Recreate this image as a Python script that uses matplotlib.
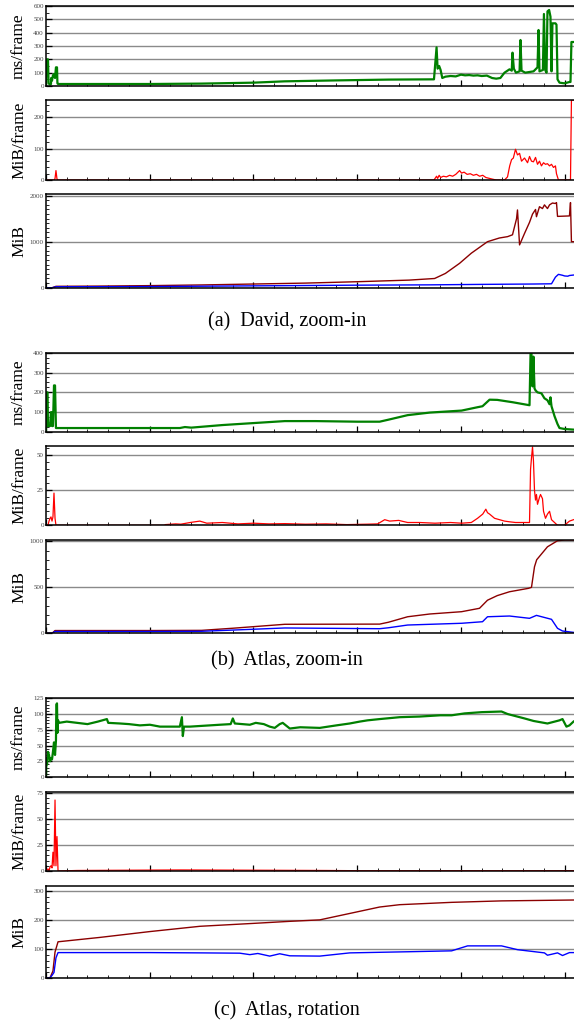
import matplotlib.pyplot as plt
from matplotlib.ticker import MultipleLocator

# gnuplot-like stacked panels: three runs, each with time, transfer and memory

# ---- (a) David, zoom-in ----
a_time_x = [0, 5, 19, 25, 39, 48, 50, 58, 67, 77, 87, 96, 106, 110, 116, 500, 1000, 1500, 2000, 2300, 2800,
            3300, 3740, 3765, 3775, 3790, 3804, 3820, 3850, 3900, 3950, 4000, 4040, 4080, 4120, 4160, 4200,
            4250, 4300, 4340, 4380, 4420, 4468, 4490, 4497, 4510, 4530, 4565, 4574, 4584, 4620, 4660, 4700,
            4738, 4748, 4757, 4790, 4800, 4812, 4825, 4834, 4850, 4863, 4873, 4882, 4911, 4921, 4931, 4950,
            4998, 5046, 5056, 5065, 5085]
a_time_y = [0, 200, 200, 20, 10, 15, 60, 40, 80, 90, 60, 140, 140, 20, 15, 15, 15, 18, 25, 35, 42,
            48, 50, 290, 130, 150, 120, 60, 70, 75, 72, 85, 80, 82, 78, 80, 75,
            78, 60, 55, 60, 100, 125, 115, 250, 130, 100, 110, 345, 115, 100, 105, 110,
            140, 420, 110, 120, 540, 120, 100, 560, 570, 520, 110, 470, 470, 460, 50, 25,
            20, 30, 30, 330, 330]

a_xfer_x = [0, 80, 87, 96, 106, 116, 3740, 3765, 3775, 3790, 3804, 3830, 3860, 3891, 3920, 3950, 3987,
            4006, 4030, 4060, 4090, 4120, 4150, 4180, 4210, 4240, 4276, 4300, 4340, 4420, 4449, 4470,
            4488, 4505, 4526, 4545, 4565, 4584, 4613, 4642, 4661, 4680, 4699, 4719, 4738, 4757, 4776,
            4796, 4815, 4834, 4854, 4873, 4892, 4911, 4921, 4940, 5056, 5065, 5085]
a_xfer_y = [0, 0, 5, 30, 3, 0, 0, 12, 5, 15, 8, 12, 10, 15, 12, 18, 30,
            22, 25, 18, 20, 15, 18, 12, 15, 8, 5, 3, 0, 0, 10, 45,
            65, 70, 98, 80, 85, 60, 70, 55, 75, 60, 58, 72, 50, 60, 45,
            55, 50, 52, 45, 50, 40, 45, 20, 0, 0, 255, 255]

a_mem_x = [0, 60, 96, 500, 1000, 1500, 2000, 2500, 3000, 3500, 3746, 3850, 3987, 4100, 4256, 4370, 4450,
           4497, 4536, 4545, 4565, 4613, 4661, 4690, 4719, 4728, 4757, 4786, 4805, 4834, 4854, 4882,
           4911, 4921, 4931, 5046, 5056, 5065, 5085]
a_mem_y = [0, 0, 30, 35, 45, 60, 80, 100, 130, 165, 200, 310, 530, 750, 1000, 1080, 1110,
           1150, 1500, 1690, 930, 1180, 1420, 1600, 1700, 1543, 1760, 1720, 1800, 1720, 1800, 1840,
           1830, 1850, 1550, 1560, 1850, 1000, 1000]

a_gpu_x = [0, 60, 96, 1000, 2000, 3000, 3700, 4200, 4700, 4873, 4911, 4940, 4979, 5000, 5030, 5046, 5085]
a_gpu_y = [0, 0, 20, 25, 40, 55, 62, 72, 80, 85, 230, 290, 270, 255, 250, 265, 275]

# ---- (b) Atlas, zoom-in ----
b_time_x = [0, 5, 15, 19, 39, 48, 55, 58, 67, 77, 87, 96, 500, 1000, 1290, 1339, 1400, 1700, 2000, 2302,
            2600, 3000, 3216, 3300, 3486, 3700, 4006, 4160, 4208, 4276, 4350, 4500, 4661, 4671, 4680,
            4690, 4699, 4709, 4719, 4738, 4776, 4805, 4834, 4854, 4863, 4873, 4902, 4931, 4950, 5000, 5085]
b_time_y = [0, 200, 200, 30, 30, 100, 100, 30, 30, 235, 235, 20, 20, 20, 20, 25, 22, 35, 45, 55,
            55, 52, 52, 62, 85, 98, 108, 125, 130, 163, 162, 150, 135, 395, 395,
            230, 380, 220, 210, 200, 195, 170, 160, 140, 175, 130, 80, 40, 20, 15, 12]

b_xfer_x = [0, 19, 29, 39, 48, 58, 67, 77, 87, 96, 1140, 1150, 1250, 1300, 1390, 1483, 1550, 1700, 1850,
            2000, 2150, 2302, 2500, 2700, 2900, 3100, 3197, 3265, 3313, 3400, 3486, 3602, 3750, 3900,
            4006, 4100, 4160, 4210, 4240, 4256, 4276, 4324, 4372, 4420, 4468, 4526, 4613, 4661, 4671,
            4680, 4690, 4699, 4709, 4719, 4728, 4738, 4757, 4767, 4786, 4796, 4815, 4834, 4854, 4873,
            4902, 4931, 4998, 5046, 5085]
b_xfer_y = [0, 0, 3, 5, 6, 3, 6, 23, 5, 0, 0, 0.5, 1, 0.8, 2, 3, 1.5, 2, 1,
            1.5, 1, 1.2, 0.8, 1, 0.5, 0.8, 1, 4, 3, 3.5, 2, 2, 1.5, 2,
            1.5, 2, 5, 8, 11.5, 9, 8, 5, 4, 3, 2.5, 2, 2, 2, 40,
            48, 56, 46, 25, 18, 22, 15, 20, 22, 19, 10, 5, 8, 10, 4,
            2, 0, 0, 3, 4]

b_mem_x = [0, 58, 87, 1000, 1500, 1800, 2302, 3216, 3300, 3486, 3700, 4006, 4179, 4256, 4350, 4468, 4650,
           4680, 4709, 4730, 4834, 4931, 5000, 5085]
b_mem_y = [0, 0, 30, 30, 32, 55, 98, 100, 120, 180, 210, 235, 272, 360, 410, 452, 489,
           500, 724, 800, 941, 1007, 1015, 1015]

b_gpu_x = [0, 58, 87, 1000, 1500, 1800, 2302, 3216, 3300, 3486, 4006, 4208, 4256, 4468, 4661, 4728, 4873,
           4931, 4979, 5085]
b_gpu_y = [0, 0, 20, 20, 22, 35, 58, 50, 60, 90, 109, 126, 180, 188, 163, 195, 152,
           54, 25, 10]

# ---- (c) Atlas, rotation ----
c_time_x = [0, 5, 10, 19, 29, 39, 48, 58, 67, 77, 87, 96, 100, 106, 110, 116, 125, 200, 300, 400, 500, 587,
            600, 713, 800, 905, 1002, 1098, 1200, 1290, 1310, 1319, 1330, 1387, 1483, 1580, 1676, 1780,
            1801, 1820, 1965, 2022, 2100, 2157, 2205, 2253, 2282, 2350, 2450, 2639, 2800, 2928, 3024,
            3100, 3216, 3409, 3600, 3800, 3910, 4035, 4200, 4391, 4450, 4613, 4700, 4834, 4950, 4979,
            5017, 5046, 5085]
c_time_y = [0, 30, 20, 40, 35, 25, 30, 28, 40, 55, 35, 58, 115, 117, 70, 90, 86, 88, 86, 84, 88, 92,
            86, 85, 84, 82, 83, 80, 80, 80, 95, 65, 80, 80, 81, 82, 83, 84,
            93, 85, 83, 86, 84, 80, 78, 84, 86, 77, 79, 78, 82, 85, 88,
            90, 92, 95, 96, 98, 98, 101, 103, 104, 100, 93, 89, 85, 90, 92,
            80, 82, 88]

c_xfer_x = [0, 19, 29, 39, 48, 58, 67, 77, 87, 96, 106, 116, 300, 1300, 2700, 3000, 5085]
c_xfer_y = [0, 2, 0, 4, 5, 3, 18, 5, 68, 5, 33, 0, 0.5, 1, 0.5, 0.3, 0.3]

c_mem_x = [0, 39, 67, 87, 116, 520, 1002, 1483, 2000, 2350, 2639, 2928, 3216, 3409, 3910, 4391, 5085]
c_mem_y = [0, 2, 25, 90, 125, 140, 160, 178, 188, 195, 200, 222, 244, 252, 260, 265, 268]

c_gpu_x = [0, 39, 58, 77, 96, 116, 500, 1000, 1500, 1868, 1965, 2042, 2157, 2253, 2350, 2639, 2928,
           3505, 3910, 4064, 4391, 4545, 4805, 4834, 4931, 4979, 5046, 5085]
c_gpu_y = [0, 2, 10, 20, 70, 88, 88, 88, 87, 86, 81, 85, 76, 84, 77, 76, 87,
           91, 94, 111, 111, 98, 87, 79, 87, 78, 88, 88]

captions = ['(a)  David, zoom-in', '(b)  Atlas, zoom-in', '(c)  Atlas, rotation']

plt.rcParams['font.family'] = ['Liberation Serif', 'DejaVu Serif']

W, H = 574, 1025
fig = plt.figure(figsize=(W / 100, H / 100), dpi=100)


def panel(top, bottom, ymax, major, minor, ylabel):
    ax = fig.add_axes([46 / W, 1 - bottom / H, 527.5 / W, (bottom - top) / H])
    ax.set_xlim(0, 5085)
    ax.set_ylim(0, ymax)
    ax.xaxis.set_major_locator(MultipleLocator(1000))
    ax.xaxis.set_minor_locator(MultipleLocator(200))
    ax.yaxis.set_major_locator(MultipleLocator(major))
    ax.yaxis.set_minor_locator(MultipleLocator(minor))
    ax.tick_params(which='both', direction='in', top=False, right=False,
                   labelbottom=False, labelsize=5, labelcolor='#444444', pad=1.5)
    ax.tick_params(which='major', length=4.5, width=0.9)
    ax.tick_params(which='minor', length=2.2, width=0.6)
    ax.set_axisbelow(True)
    ax.grid(axis='y', which='major', color='#8a8a8a', lw=1.0)
    for s in ['left', 'top', 'bottom']:
        ax.spines[s].set_linewidth(1.1)
    ax.spines['right'].set_linestyle(':')
    ax.spines['right'].set_color('#aaaaaa')
    ax.spines['right'].set_linewidth(0.6)
    ax.set_ylabel(ylabel, fontsize=12.5)
    ax.yaxis.set_label_coords(-0.036, 0.5)
    return ax


green = '#008000'
red = '#ff0000'
dred = '#8b0000'
blue = '#0000ff'

# (a)
ax = panel(6, 86, 600, 100, 50, 'ms/frame')
ax.plot(a_time_x, a_time_y, color=green, lw=1.6)
ax = panel(100, 180, 255, 100, 20, 'MiB/frame')
ax.plot(a_xfer_x, a_xfer_y, color=red, lw=0.9)
ax = panel(194.3, 287.7, 2030, 1000, 100, 'MiB')
ax.plot(a_mem_x, a_mem_y, color=dred, lw=1)
ax.plot(a_gpu_x, a_gpu_y, color=blue, lw=1)
fig.text(0.5, 1 - 322 / H, captions[0], ha='center', va='center', fontsize=14.5)

# (b)
ax = panel(352.7, 432, 400, 100, 25, 'ms/frame')
ax.plot(b_time_x, b_time_y, color=green, lw=1.6)
ax = panel(446, 525.3, 56.6, 25, 5, 'MiB/frame')
ax.plot(b_xfer_x, b_xfer_y, color=red, lw=0.9)
ax = panel(540, 633.3, 1015, 500, 100, 'MiB')
ax.plot(b_mem_x, b_mem_y, color=dred, lw=1)
ax.plot(b_gpu_x, b_gpu_y, color=blue, lw=1)
fig.text(0.5, 1 - 661 / H, captions[1], ha='center', va='center', fontsize=14.5)

# (c)
ax = panel(698.3, 777, 125, 25, 5, 'ms/frame')
ax.plot(c_time_x, c_time_y, color=green, lw=1.6)
ax = panel(791.7, 871, 76, 25, 5, 'MiB/frame')
ax.plot(c_xfer_x, c_xfer_y, color=red, lw=0.9)
ax = panel(885.7, 978.3, 317, 100, 20, 'MiB')
ax.plot(c_mem_x, c_mem_y, color=dred, lw=1)
ax.plot(c_gpu_x, c_gpu_y, color=blue, lw=1)
fig.text(0.5, 1 - 1011 / H, captions[2], ha='center', va='center', fontsize=14.5)

fig.savefig('out.png', dpi=100)
